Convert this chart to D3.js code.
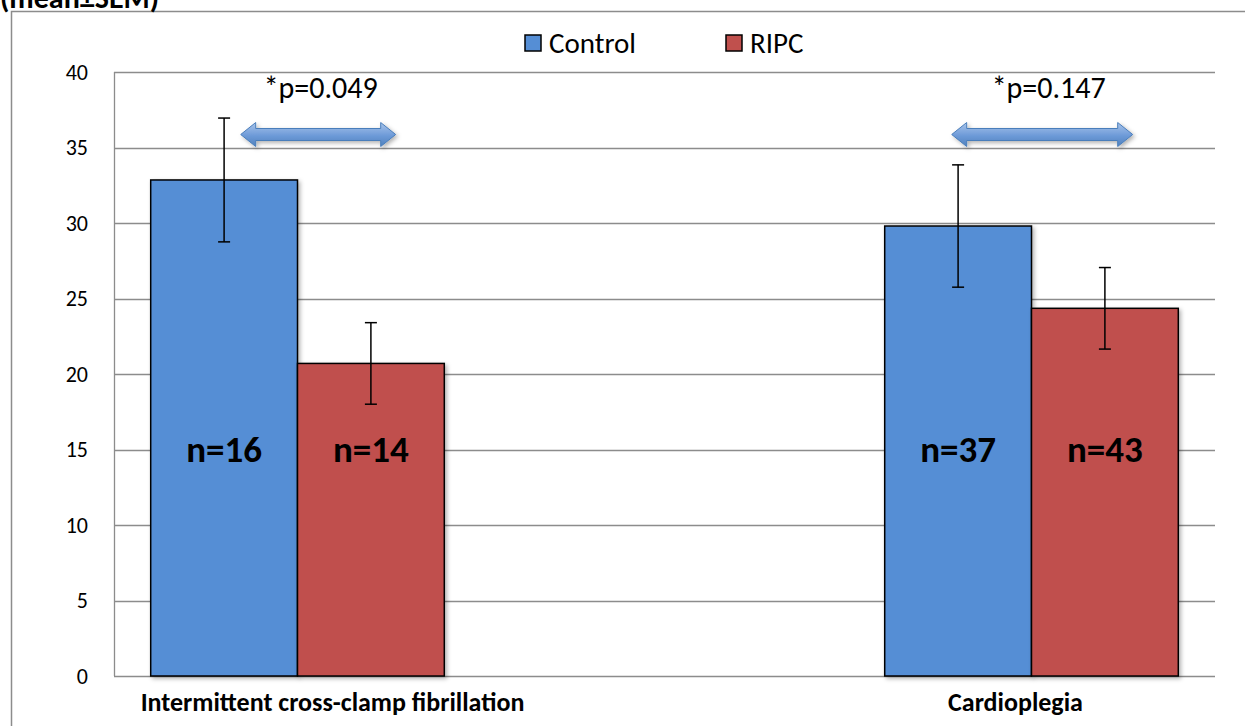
<!DOCTYPE html>
<html lang="en">
  <head>
    <meta charset="UTF-8" />
    <title>Control vs RIPC</title>
    <script src="https://d3js.org/d3.v7.min.js"></script>
    <style>
      body {
        margin: 0;
        background: #fff;
        font-family: Carlito, Lato, "Open Sans", sans-serif;
      }
      svg {
        display: block;
      }
      .tick-label {
        font-size: 22px;
        fill: #000;
      }
      .grid {
        stroke: #8c8c8c;
        stroke-width: 1.3;
      }
      .nlabel {
        font-size: 37px;
        font-weight: bold;
        text-anchor: middle;
      }
      .cat {
        font-size: 26px;
        font-weight: bold;
        text-anchor: middle;
      }
    </style>
  </head>
  <body>
    <svg id="chart" width="1245" height="726"></svg>

    <script>
      // ---- data ----
      const categories = ["Intermittent cross-clamp fibrillation", "", "Cardioplegia"];
      const series = ["Control", "RIPC"];
      const controlMean = [32.85, null, 29.8];
      const controlSem = [4.1, null, 4.05];
      const ripcMean = [20.7, null, 24.35];
      const ripcSem = [2.7, null, 2.7];
      const nControl = ["n=16", null, "n=37"];
      const nRipc = ["n=14", null, "n=43"];
      const pLabels = ["*p=0.049", null, "*p=0.147"];
      const yTicks = [0, 5, 10, 15, 20, 25, 30, 35, 40];

      const colors = { Control: "#558ed5", RIPC: "#c0504d" };

      const svg = d3.select("#chart");
      const width = +svg.attr("width");
      const height = +svg.attr("height");

      const plot = { left: 114, right: 1215, top: 72, bottom: 676 };

      const x = d3
        .scaleBand()
        .domain(d3.range(categories.length))
        .range([plot.left, plot.right])
        .paddingInner(0.2)
        .paddingOuter(0.1);

      const xs = d3.scaleBand().domain(series).range([0, x.bandwidth()]);

      const y = d3.scaleLinear().domain([0, 40]).range([plot.bottom, plot.top]);

      // outer frame (cut at right and bottom)
      svg
        .append("path")
        .attr("d", `M11.5,${height + 2} V11.5 H${width + 2}`)
        .attr("fill", "none")
        .attr("stroke", "#8c8c8c")
        .attr("stroke-width", 1.5);

      // title, mostly above the visible area (as in the source image)
      svg
        .append("text")
        .attr("x", 0)
        .attr("y", 8)
        .style("font-size", "30px")
        .style("font-weight", "bold")
        .text("(mean±SEM)");

      // gridlines
      svg
        .append("g")
        .selectAll("line")
        .data(yTicks)
        .join("line")
        .attr("class", "grid")
        .attr("x1", plot.left)
        .attr("x2", plot.right)
        .attr("y1", (d) => Math.round(y(d)) + 0.5)
        .attr("y2", (d) => Math.round(y(d)) + 0.5);

      // left plot border
      svg
        .append("line")
        .attr("class", "grid")
        .attr("x1", plot.left + 0.5)
        .attr("x2", plot.left + 0.5)
        .attr("y1", plot.top)
        .attr("y2", plot.bottom);

      // y axis labels
      svg
        .append("g")
        .selectAll("text")
        .data(yTicks)
        .join("text")
        .attr("class", "tick-label")
        .attr("x", 88)
        .attr("y", (d) => y(d))
        .attr("dy", "0.35em")
        .attr("text-anchor", "end")
        .text((d) => d);

      // shadow filter + arrow gradient
      const defs = svg.append("defs");
      const f = defs.append("filter").attr("id", "shadow").attr("x", "-20%").attr("y", "-20%").attr("width", "150%").attr("height", "150%");
      f.append("feDropShadow").attr("dx", 2).attr("dy", 2).attr("stdDeviation", 2).attr("flood-color", "#000").attr("flood-opacity", 0.3);

      const grad = defs
        .append("linearGradient")
        .attr("id", "arrowGrad")
        .attr("x1", 0)
        .attr("y1", 0)
        .attr("x2", 0)
        .attr("y2", 1);
      grad.append("stop").attr("offset", "0%").attr("stop-color", "#a9c4ea");
      grad.append("stop").attr("offset", "55%").attr("stop-color", "#6d9ad8");
      grad.append("stop").attr("offset", "100%").attr("stop-color", "#4f81bd");

      // bars
      const rows = categories.map((c, i) => ({
        i,
        values: [
          { s: "Control", v: controlMean[i], e: controlSem[i], n: nControl[i] },
          { s: "RIPC", v: ripcMean[i], e: ripcSem[i], n: nRipc[i] },
        ],
      }));

      const groups = svg
        .append("g")
        .selectAll("g")
        .data(rows.filter((r) => r.values[0].v !== null))
        .join("g")
        .attr("transform", (d) => `translate(${x(d.i)},0)`);

      groups
        .selectAll("rect")
        .data((d) => d.values)
        .join("rect")
        .attr("x", (d) => xs(d.s))
        .attr("width", xs.bandwidth())
        .attr("y", (d) => y(d.v))
        .attr("height", (d) => y(0) - y(d.v))
        .attr("fill", (d) => colors[d.s])
        .attr("stroke", "#000")
        .attr("stroke-width", 1.5)
        .attr("filter", "url(#shadow)");

      // error bars
      const eb = groups
        .selectAll("g.err")
        .data((d) => d.values)
        .join("g")
        .attr("class", "err")
        .attr("transform", (d) => `translate(${xs(d.s) + xs.bandwidth() / 2},0)`)
        .attr("stroke", "#000")
        .attr("stroke-width", 1.5);
      eb.append("line").attr("y1", (d) => y(d.v + d.e)).attr("y2", (d) => y(d.v - d.e));
      eb.append("line").attr("x1", -6).attr("x2", 6).attr("y1", (d) => y(d.v + d.e)).attr("y2", (d) => y(d.v + d.e));
      eb.append("line").attr("x1", -6).attr("x2", 6).attr("y1", (d) => y(d.v - d.e)).attr("y2", (d) => y(d.v - d.e));

      // n labels
      groups
        .selectAll("text.nlabel")
        .data((d) => d.values)
        .join("text")
        .attr("class", "nlabel")
        .attr("x", (d) => xs(d.s) + xs.bandwidth() / 2)
        .attr("y", y(15))
        .attr("dy", "0.35em")
        .text((d) => d.n);

      // category labels (text boxes offset from band centre)
      const catOffset = [35, 0, -16];
      svg
        .append("g")
        .selectAll("text")
        .data(categories.map((c, i) => ({ c, i })).filter((d) => d.c))
        .join("text")
        .attr("class", "cat")
        .attr("x", (d) => x(d.i) + x.bandwidth() / 2 + catOffset[d.i])
        .attr("y", 711)
        .text((d) => d.c);

      // p-value annotations with double arrows
      const arrowSpan = [
        [90, 245],
        null,
        [67, 248],
      ];
      const pOffset = [170, 0, 164];
      const arrowY = y(35) - 13;

      function doubleArrow(x0, x1, cy) {
        const hh = 12, sh = 6, hl = 15;
        return `M${x0},${cy} L${x0 + hl},${cy - hh} L${x0 + hl},${cy - sh} L${x1 - hl},${cy - sh} L${x1 - hl},${cy - hh} L${x1},${cy} L${x1 - hl},${cy + hh} L${x1 - hl},${cy + sh} L${x0 + hl},${cy + sh} L${x0 + hl},${cy + hh} Z`;
      }

      const ann = svg
        .append("g")
        .selectAll("g")
        .data(pLabels.map((p, i) => ({ p, i })).filter((d) => d.p))
        .join("g")
        .attr("transform", (d) => `translate(${x(d.i)},0)`);

      ann
        .append("path")
        .attr("d", (d) => doubleArrow(arrowSpan[d.i][0], arrowSpan[d.i][1], arrowY))
        .attr("fill", "url(#arrowGrad)")
        .attr("stroke", "#4a7ebb")
        .attr("stroke-width", 1)
        .attr("filter", "url(#shadow)");

      ann
        .append("text")
        .attr("x", (d) => pOffset[d.i])
        .attr("y", 98)
        .attr("text-anchor", "middle")
        .style("font-size", "30px")
        .text((d) => d.p);

      // legend
      const legend = svg
        .append("g")
        .selectAll("g")
        .data(series)
        .join("g")
        .attr("transform", (d, i) => `translate(${525 + i * 201},35)`);
      legend
        .append("rect")
        .attr("width", 16)
        .attr("height", 16)
        .attr("fill", (d) => colors[d])
        .attr("stroke", "#000")
        .attr("stroke-width", 1.5);
      legend
        .append("text")
        .attr("x", 24)
        .attr("y", 8)
        .attr("dy", "0.35em")
        .style("font-size", "29px")
        .text((d) => d);
    </script>
  </body>
</html>
